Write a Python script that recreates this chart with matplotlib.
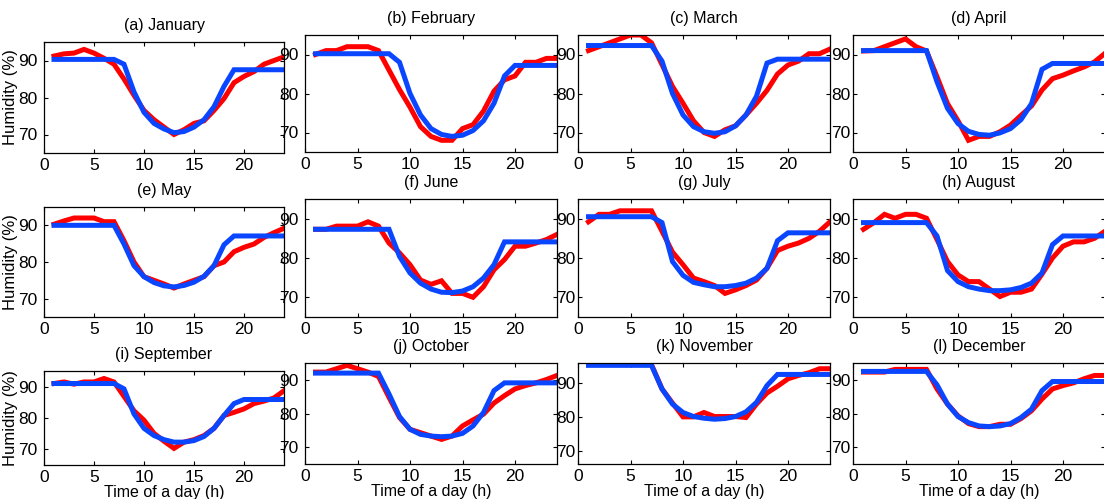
import matplotlib
matplotlib.use("Agg")
import matplotlib.pyplot as plt

plt.rcParams['font.family'] = ['Liberation Sans', 'DejaVu Sans']
plt.rcParams['font.size'] = 11.5

hours = list(range(1, 25))

titles = ['(a) January', '(b) February', '(c) March', '(d) April',
          '(e) May', '(f) June', '(g) July', '(h) August',
          '(i) September', '(j) October', '(k) November', '(l) December']

# measured humidity (red)
measured = [
    [91.2, 91.8, 92, 93, 92, 90.6, 89, 85, 80.6, 76.5, 74, 72, 70, 71.3, 73, 73.7, 76.5, 79.7, 84, 85.7, 87, 89, 90, 91],
    [90, 91, 91, 92, 92, 92, 91, 86, 81, 76.5, 71.5, 69, 68, 68, 71, 72, 75.5, 80.6, 83.5, 84.5, 88, 88, 89, 89],
    [91, 92, 93, 94, 95, 95, 93, 87.4, 81.8, 77.5, 73, 70, 69, 70.7, 71.7, 74.5, 77.5, 80.8, 85, 87.3, 88.3, 90.2, 90.2, 91.4],
    [90.9, 91, 92, 93, 94, 92, 90.9, 84.3, 77.4, 73, 68, 69, 69, 70.2, 71.9, 74.4, 76.8, 80.9, 83.8, 84.7, 85.8, 86.8, 88.1, 90.3],
    [90.3, 91.2, 92, 92, 92, 91, 91, 85.8, 80, 76, 75, 74, 72.9, 74, 75, 76, 79, 80, 82.8, 84, 84.9, 86.7, 88, 89.2],
    [87.3, 87.3, 88.1, 88.1, 88.1, 89.2, 88.1, 83.8, 81.3, 78.3, 74.4, 73.3, 74.2, 71, 71, 70, 72.7, 77, 79.6, 83, 83, 83.8, 84.7, 86],
    [89.2, 91.1, 91.1, 92, 92, 92, 92, 86.8, 81.5, 78.3, 74.9, 74, 73, 71, 71.9, 73, 74.4, 77.4, 81.9, 83, 83.8, 85, 86.8, 89.2],
    [87.3, 89, 91.1, 90.1, 91.1, 91.1, 90.1, 84.7, 79.1, 75.7, 74, 74, 72.1, 70.2, 71.3, 71.3, 72.1, 75.9, 80, 83, 84.1, 84.1, 85, 86.8],
    [91, 91.5, 90.8, 91.5, 91.5, 92.6, 91.5, 86.9, 82.3, 79.3, 75.1, 72.6, 70.3, 72.3, 73.1, 74.4, 76.7, 80.8, 81.8, 82.9, 84.6, 85.4, 86.4, 88.7],
    [92.3, 92.3, 93.3, 94.3, 93.3, 92.3, 91, 84.8, 78.8, 75.3, 74.3, 73.3, 72.3, 73.3, 76.3, 78.1, 79.8, 83.1, 85.3, 87.3, 88.3, 89.1, 90.1, 91.3],
    [96, 96, 96, 96, 96, 96, 95.5, 88.3, 84.1, 80, 80, 81.3, 80.1, 80.1, 80.1, 79.8, 83.8, 87.1, 89.1, 91.3, 92.3, 93.1, 94.3, 94.3],
    [92.3, 92.3, 92.3, 93.1, 93.1, 93.1, 93.1, 87.3, 82.8, 79.3, 77, 76.1, 76.1, 76.8, 76.8, 78.5, 80.8, 84.3, 87.3, 88.3, 89.1, 90.3, 91.3, 91.3],
]

# model humidity (blue)
model = [
    [90.3, 90.3, 90.3, 90.3, 90.3, 90.3, 90.3, 89, 81.5, 76, 73, 71.5, 70.5, 70.8, 72, 74, 77.5, 83, 87.5, 87.5, 87.5, 87.5, 87.5, 87.5],
    [90.2, 90.2, 90.2, 90.2, 90.2, 90.2, 90.2, 90.2, 88, 80, 74.5, 71, 69.5, 69, 69.3, 70.5, 73, 77.5, 84.5, 87.2, 87.2, 87.2, 87.2, 87.2],
    [92.3, 92.3, 92.3, 92.3, 92.3, 92.3, 92.3, 88.3, 80, 74.5, 71.5, 70.2, 69.8, 70.2, 71.7, 74.5, 79.3, 87.8, 88.8, 88.8, 88.8, 88.8, 88.8, 88.8],
    [91, 91, 91, 91, 91, 91, 91, 83, 76.2, 72.3, 70.3, 69.5, 69.3, 69.9, 71, 73.3, 77.4, 86.2, 87.7, 87.7, 87.7, 87.7, 87.7, 87.7],
    [90, 90, 90, 90, 90, 90, 90, 84.9, 79, 76, 74.4, 73.5, 73.2, 73.6, 74.5, 76.1, 79, 84.7, 87.1, 87.1, 87.1, 87.1, 87.1, 87.1],
    [87.3, 87.3, 87.3, 87.3, 87.3, 87.3, 87.3, 87.3, 80.4, 76.2, 73.6, 72.1, 71.3, 71.2, 71.6, 72.7, 74.9, 78.3, 84.1, 84.1, 84.1, 84.1, 84.1, 84.1],
    [90.5, 90.5, 90.5, 90.5, 90.5, 90.5, 90.5, 89, 79.1, 75.6, 73.8, 73.2, 72.7, 72.7, 73, 73.6, 74.9, 77.4, 84.4, 86.4, 86.4, 86.4, 86.4, 86.4],
    [89, 89, 89, 89, 89, 89, 89, 85.6, 76.8, 74, 72.7, 72.1, 71.7, 71.7, 71.9, 72.5, 73.6, 76.2, 83.4, 85.6, 85.6, 85.6, 85.6, 85.6],
    [91, 91, 91, 91, 91, 91, 91, 89.3, 81.3, 76.7, 74.4, 73.1, 72.3, 72.3, 72.8, 74.1, 76.7, 80.8, 84.6, 85.9, 85.9, 85.9, 85.9, 85.9],
    [92, 92, 92, 92, 92, 92, 92, 85.8, 79.1, 75.3, 73.8, 73.3, 73.1, 73.3, 74.1, 76.3, 80.3, 86.8, 89.1, 89.1, 89.1, 89.1, 89.1, 89.1],
    [95.3, 95.3, 95.3, 95.3, 95.3, 95.3, 95.3, 88.3, 83.8, 81.3, 80.1, 79.6, 79.3, 79.5, 80.1, 81.5, 84.3, 89.3, 92.6, 92.6, 92.6, 92.6, 92.6, 92.6],
    [92.5, 92.5, 92.5, 92.5, 92.5, 92.5, 92.5, 88.5, 82.8, 79.1, 77.3, 76.3, 76.1, 76.3, 77, 78.8, 81.3, 86.8, 89.5, 89.5, 89.5, 89.5, 89.5, 89.5],
]

ylims = [(65, 95)] * 10 + [(66, 96), (65, 95)]

W, H = 1104, 499
fig = plt.figure(figsize=(W / 100, H / 100), dpi=100)

# panel boxes in pixels: left, width per column; top, bottom per row
col_left = [44, 305, 578, 853]
col_width = [240, 252, 252, 252]
rows_first = [(42, 153), (207, 317), (371, 465)]
rows_other = [(35, 152), (199, 317), (363, 464)]
ypad = [4.5, 4.5, 2, 2]

for i in range(12):
    r, c = divmod(i, 4)
    top, bot = (rows_first if c == 0 else rows_other)[r]
    ax = fig.add_axes([col_left[c] / W, 1 - bot / H, col_width[c] / W, (bot - top) / H])
    ax.plot(hours, measured[i], color='#ff0000', lw=3.6, solid_joinstyle='miter')
    ax.plot(hours, model[i], color='#0a46ff', lw=3.6, solid_joinstyle='miter')
    ax.set_xlim(0, 24)
    ax.set_ylim(*ylims[i])
    ax.set_xticks([0, 5, 10, 15, 20])
    ax.set_yticks([70, 80, 90])
    ax.tick_params(direction='in', top=True, right=True, length=3, width=0.8,
                   labelsize=12.5)
    ax.tick_params(axis='y', pad=ypad[c])
    for s in ax.spines.values():
        s.set_linewidth(0.9)
    ax.set_title(titles[i], fontsize=11.5, pad=8.5)
    if c == 0:
        ax.set_ylabel('Humidity (%)', fontsize=12)
        ax.yaxis.set_label_coords(-0.11, 0.5)
    if r == 2:
        ax.set_xlabel('Time of a day (h)', labelpad=0)

fig.savefig('out.png', dpi=100)
